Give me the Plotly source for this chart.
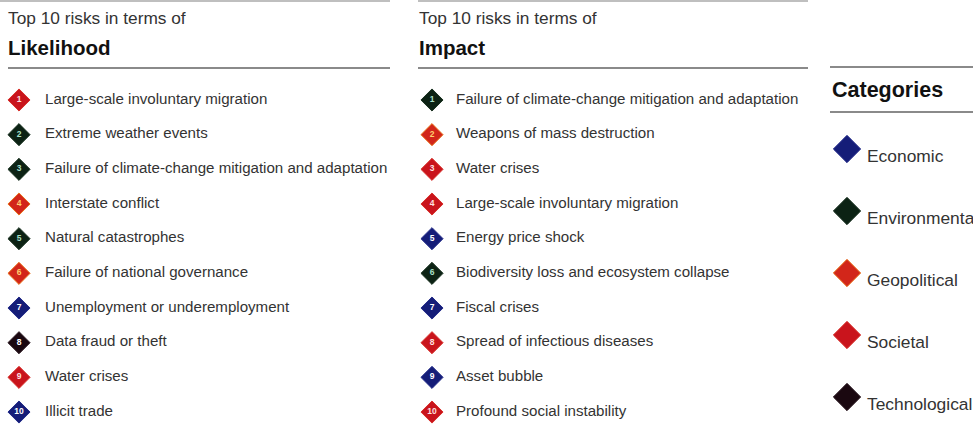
import plotly.graph_objects as go

# ---- data ----
ranks = [1, 2, 3, 4, 5, 6, 7, 8, 9, 10]
likelihood_risks = [
    "Large-scale involuntary migration",
    "Extreme weather events",
    "Failure of climate-change mitigation and adaptation",
    "Interstate conflict",
    "Natural catastrophes",
    "Failure of national governance",
    "Unemployment or underemployment",
    "Data fraud or theft",
    "Water crises",
    "Illicit trade",
]
likelihood_cats = ["Societal", "Environmental", "Environmental", "Geopolitical", "Environmental",
                   "Geopolitical", "Economic", "Technological", "Societal", "Economic"]
impact_risks = [
    "Failure of climate-change mitigation and adaptation",
    "Weapons of mass destruction",
    "Water crises",
    "Large-scale involuntary migration",
    "Energy price shock",
    "Biodiversity loss and ecosystem collapse",
    "Fiscal crises",
    "Spread of infectious diseases",
    "Asset bubble",
    "Profound social instability",
]
impact_cats = ["Environmental", "Geopolitical", "Societal", "Societal", "Economic",
               "Environmental", "Economic", "Societal", "Economic", "Societal"]
categories = ["Economic", "Environmental", "Geopolitical", "Societal", "Technological"]

# ---- styles ----
cat_color = {
    "Economic": "#151d78",
    "Environmental": "#0c2214",
    "Geopolitical": "#d2261a",
    "Societal": "#c9141c",
    "Technological": "#1a0810",
}
cat_line = {
    "Economic": "#242c8a",
    "Environmental": "#18301f",
    "Geopolitical": "#e8701a",
    "Societal": "#d8302a",
    "Technological": "#28161e",
}
num_color = {
    "Economic": "#ffffff",
    "Environmental": "#a8e0c8",
    "Geopolitical": "#ffd070",
    "Societal": "#ffe0e0",
    "Technological": "#ffffff",
}
FONT = "Liberation Sans, Arial, Helvetica, sans-serif"
W, H = 973, 424

fig = go.Figure()


def add_column(xm, xt, risks, cats):
    fig.add_trace(go.Scatter(
        x=[xm] * len(ranks), y=ranks, mode="markers+text",
        marker=dict(symbol="diamond", size=17,
                    color=[cat_color[c] for c in cats],
                    line=dict(width=1, color=[cat_line[c] for c in cats])),
        text=["<b>%d</b>" % r for r in ranks], textposition="middle center",
        textfont=dict(family=FONT, size=8.5, color=[num_color[c] for c in cats]),
        hoverinfo="skip", showlegend=False, cliponaxis=False,
    ))
    fig.add_trace(go.Scatter(
        x=[xt] * len(ranks), y=ranks, mode="text",
        text=risks, textposition="middle right",
        textfont=dict(family=FONT, size=15.1, color="#333333"),
        hoverinfo="skip", showlegend=False, cliponaxis=False,
    ))


add_column(19, 45, likelihood_risks, likelihood_cats)
add_column(432, 456, impact_risks, impact_cats)

# categories legend (second y axis)
fig.add_trace(go.Scatter(
    x=[847] * len(categories), y=list(range(len(categories))), yaxis="y2", mode="markers",
    marker=dict(symbol="diamond", size=21,
                color=[cat_color[c] for c in categories],
                line=dict(width=1, color=[cat_line[c] for c in categories])),
    hoverinfo="skip", showlegend=False, cliponaxis=False,
))
fig.add_trace(go.Scatter(
    x=[867] * len(categories), y=[i + 0.14 for i in range(len(categories))], yaxis="y2", mode="text",
    text=categories, textposition="middle right",
    textfont=dict(family=FONT, size=17.4, color="#333333"),
    hoverinfo="skip", showlegend=False, cliponaxis=False,
))


def py(p):
    return 1 - p / H


shapes = []
for x0, x1 in [(0, 390), (418, 808)]:
    shapes.append(dict(type="line", xref="x", yref="paper", x0=x0, x1=x1, y0=py(1), y1=py(1),
                       line=dict(color="#aaaaaa", width=1.5)))
for x0, x1 in [(8, 390), (418, 808)]:
    shapes.append(dict(type="line", xref="x", yref="paper", x0=x0, x1=x1, y0=py(68), y1=py(68),
                       line=dict(color="#8a8a8a", width=2)))
for yy in [67, 112]:
    shapes.append(dict(type="line", xref="x", yref="paper", x0=830, x1=973, y0=py(yy), y1=py(yy),
                       line=dict(color="#8a8a8a", width=2)))

annotations = []
for x0, title in [(6, "Likelihood"), (417, "Impact")]:
    annotations.append(dict(x=x0, y=py(18), xref="x", yref="paper", xanchor="left", yanchor="middle",
                            text="Top 10 risks in terms of", showarrow=False,
                            font=dict(family=FONT, size=17.3, color="#333333")))
    annotations.append(dict(x=x0, y=py(47), xref="x", yref="paper", xanchor="left", yanchor="middle",
                            text="<b>" + title + "</b>", showarrow=False,
                            font=dict(family=FONT, size=20.5, color="#111111")))
annotations.append(dict(x=830, y=py(90), xref="x", yref="paper", xanchor="left", yanchor="middle",
                        text="<b>Categories</b>", showarrow=False,
                        font=dict(family=FONT, size=21.5, color="#111111")))

row0, step = 100, 34.67
fig.update_layout(
    width=W, height=H, margin=dict(l=0, r=0, t=0, b=0),
    paper_bgcolor="white", plot_bgcolor="white",
    xaxis=dict(range=[0, W], visible=False, fixedrange=True),
    yaxis=dict(range=[1 + (H - row0) / step, 1 - row0 / step], visible=False, fixedrange=True),
    yaxis2=dict(range=[(H - 149) / 62, -149 / 62], visible=False, overlaying="y", fixedrange=True),
    shapes=shapes, annotations=annotations,
)

fig.write_html("out.html", config={"displayModeBar": False},
               post_script="document.body.style.margin='0';document.body.style.overflow='hidden';")
